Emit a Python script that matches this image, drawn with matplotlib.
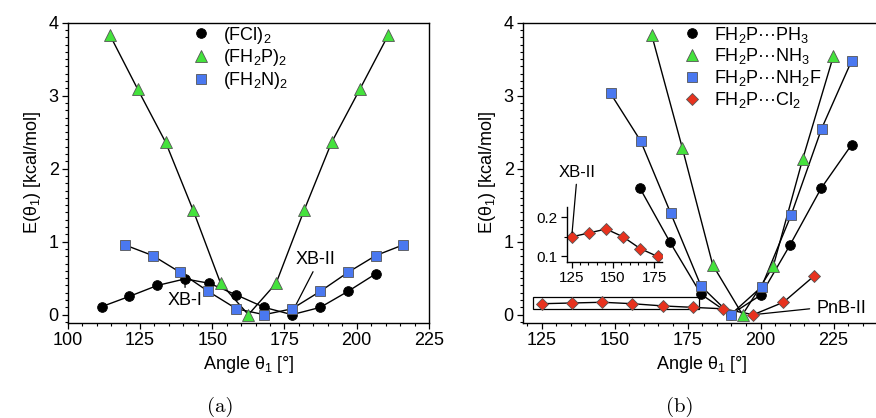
import matplotlib
matplotlib.use('Agg')
import matplotlib.pyplot as plt
import matplotlib.ticker as ticker
from matplotlib.patches import Rectangle

plt.rcParams['font.family'] = ['Liberation Sans', 'DejaVu Sans']
plt.rcParams['mathtext.default'] = 'regular'

#%% dados - painel (a)
ang_fcl = [111.8, 121.3, 131.0, 140.6, 149.0, 158.4, 168.0, 177.6, 187.4, 197.0, 206.6]
e_fcl = [0.11, 0.25, 0.40, 0.49, 0.43, 0.27, 0.10, 0.0, 0.10, 0.32, 0.56]

ang_fh2p = [114.6, 124.2, 133.9, 143.4, 152.9, 162.5, 172.1, 181.8, 191.3, 201.1, 210.9]
e_fh2p = [3.83, 3.09, 2.36, 1.43, 0.43, 0.0, 0.43, 1.43, 2.36, 3.09, 3.83]

ang_fh2n = [119.8, 129.4, 138.9, 148.6, 158.4, 168.0, 177.6, 187.4, 197.0, 206.6, 216.0]
e_fh2n = [0.955, 0.81, 0.58, 0.32, 0.08, 0.0, 0.08, 0.32, 0.58, 0.81, 0.955]

#%% dados - painel (b)
ang_ph3 = [158.7, 169.0, 179.6, 189.7, 200.1, 210.0, 220.7, 231.2]
e_ph3 = [1.73, 0.99, 0.28, 0.0, 0.27, 0.95, 1.73, 2.33]

ang_nh3 = [162.7, 173.2, 183.6, 193.8, 204.3, 214.4, 224.9]
e_nh3 = [3.83, 2.28, 0.68, 0.0, 0.66, 2.13, 3.54]

ang_nh2f = [148.6, 158.9, 169.2, 179.6, 189.7, 200.3, 210.4, 220.9, 231.2]
e_nh2f = [3.03, 2.38, 1.39, 0.39, 0.0, 0.38, 1.36, 2.55, 3.48]

ang_cl2 = [125.0, 135.5, 145.8, 156.1, 166.4, 176.9, 187.2, 197.5, 207.8, 218.3]
e_cl2 = [0.15, 0.16, 0.17, 0.15, 0.12, 0.10, 0.08, 0.0, 0.17, 0.53]

verde = '#44e23c'
azul = '#4a78f0'
vermelho = '#e8321e'
borda = '#555555'
pts = '\u00b7\u00b7\u00b7'
fs = 13


def estilo_eixo(ax, minor_x=5, minor_y=0.1, size=fs):
    ax.xaxis.set_minor_locator(ticker.MultipleLocator(minor_x))
    ax.yaxis.set_minor_locator(ticker.MultipleLocator(minor_y))
    ax.tick_params(which='major', direction='out', length=4, width=0.9, labelsize=size, pad=2.5)
    ax.tick_params(which='minor', direction='out', length=2.2, width=0.8)
    for s in ax.spines.values():
        s.set_linewidth(1.0)


def serie(ax, x, y, marker, cor, ms, label, z=3):
    ax.plot(x, y, '-', color='black', lw=1.0, zorder=z)
    ax.plot(x, y, marker, ls='none', ms=ms, mfc=cor, mec=borda if cor != 'black' else 'black',
            mew=0.6, label=label, zorder=z + 1)


fig = plt.figure(figsize=(8.76, 4.18), dpi=100)

#%% painel (a)
ax1 = fig.add_axes([0.0773, 0.228, 0.4124, 0.7177])
serie(ax1, ang_fcl, e_fcl, 'o', 'black', 7, '(FCl)$_2$')
serie(ax1, ang_fh2p, e_fh2p, '^', verde, 8.5, '(FH$_2$P)$_2$')
serie(ax1, ang_fh2n, e_fh2n, 's', azul, 6.5, '(FH$_2$N)$_2$')
ax1.set_xlim(100, 225)
ax1.set_ylim(-0.11, 4)
ax1.xaxis.set_major_locator(ticker.MultipleLocator(25))
ax1.yaxis.set_major_locator(ticker.MultipleLocator(1))
estilo_eixo(ax1)
ax1.set_xlabel('Angle θ$_1$ [°]', fontsize=fs)
ax1.set_ylabel('E(θ$_1$) [kcal/mol]', fontsize=fs)
ax1.legend(loc='upper left', bbox_to_anchor=(0.315, 1.03), frameon=False, fontsize=fs,
           handlelength=1.0, handletextpad=0.7, labelspacing=0.1, borderaxespad=0.2)
ax1.annotate('XB-I', xy=(140.6, 0.49), xytext=(140.6, 0.2), ha='center', va='center',
             fontsize=fs, arrowprops=dict(arrowstyle='-', lw=0.9, relpos=(0.5, 1), shrinkA=1, shrinkB=4))
ax1.annotate('XB-II', xy=(178.0, 0.06), xytext=(185.6, 0.76), ha='center', va='center',
             fontsize=fs, arrowprops=dict(arrowstyle='-', lw=0.9, relpos=(0.5, 0), shrinkA=1, shrinkB=2))
fig.text(220 / 876, 1 - 407 / 418, '(a)', family='cmr10', fontsize=15, ha='center', va='center')

#%% painel (b)
ax2 = fig.add_axes([0.5967, 0.228, 0.4079, 0.7177])
serie(ax2, ang_ph3, e_ph3, 'o', 'black', 7, 'FH$_2$P' + pts + 'PH$_3$')
serie(ax2, ang_nh3, e_nh3, '^', verde, 8.5, 'FH$_2$P' + pts + 'NH$_3$')
serie(ax2, ang_nh2f, e_nh2f, 's', azul, 6.5, 'FH$_2$P' + pts + 'NH$_2$F')
serie(ax2, ang_cl2, e_cl2, 'D', vermelho, 6.5, 'FH$_2$P' + pts + 'Cl$_2$')
ax2.set_xlim(118.5, 240.9)
ax2.set_ylim(-0.11, 4)
ax2.xaxis.set_major_locator(ticker.MultipleLocator(25))
ax2.yaxis.set_major_locator(ticker.MultipleLocator(1))
estilo_eixo(ax2)
ax2.set_xlabel('Angle θ$_1$ [°]', fontsize=fs)
ax2.set_ylabel('E(θ$_1$) [kcal/mol]', fontsize=fs)
ax2.legend(loc='upper left', bbox_to_anchor=(0.419, 1.03), frameon=False, fontsize=fs,
           handlelength=1.0, handletextpad=0.7, labelspacing=0.1, borderaxespad=0.2)
ax2.add_patch(Rectangle((122.1, 0.08), 56.8, 0.16, fill=False, ec='black', lw=0.9, zorder=2))
ax2.annotate('PnB-II', xy=(197.5, 0.0), xytext=(227.7, 0.09), ha='center', va='center',
             fontsize=fs, arrowprops=dict(arrowstyle='-', lw=0.9, relpos=(0, 0.5), shrinkA=3, shrinkB=3))
fig.text(680 / 876, 1 - 407 / 418, '(b)', family='cmr10', fontsize=15, ha='center', va='center')

#%% inset
ins = fig.add_axes([0.647, 0.3725, 0.1085, 0.133])
ins.plot(ang_cl2[:6], e_cl2[:6], '-', color='black', lw=1.0)
ins.plot(ang_cl2[:6], e_cl2[:6], 'D', ls='none', ms=6.5, mfc=vermelho, mec=borda, mew=0.6)
ins.set_xlim(122, 179.5)
ins.set_ylim(0.085, 0.227)
ins.xaxis.set_major_locator(ticker.MultipleLocator(25))
ins.yaxis.set_major_locator(ticker.MultipleLocator(0.1))
ins.yaxis.set_major_formatter(ticker.FormatStrFormatter('%.1f'))
estilo_eixo(ins, minor_x=5, minor_y=0.05, size=11)
ins.spines['top'].set_visible(False)
ins.spines['right'].set_visible(False)
ins.patch.set_alpha(0)
ins.annotate('XB-II', xy=(125.0, 0.15), xytext=(128, 0.314), ha='center', va='center',
             fontsize=12, annotation_clip=False,
             arrowprops=dict(arrowstyle='-', lw=0.9, relpos=(0.5, 0), shrinkA=1, shrinkB=3))

fig.savefig('out.png', dpi=100)
